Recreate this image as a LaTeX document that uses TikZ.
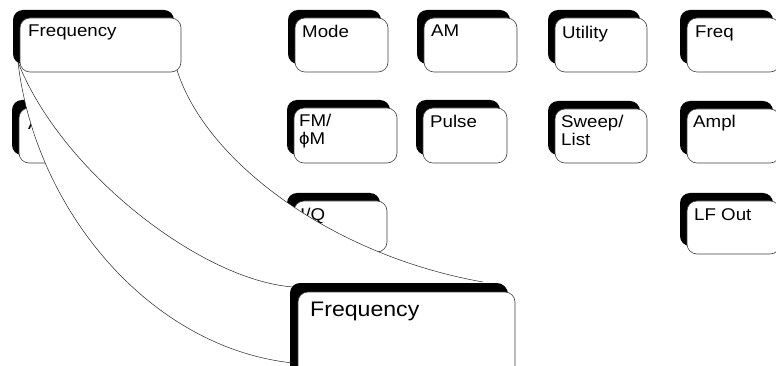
\documentclass[tikz,border=0pt]{standalone}
\usepackage{fontspec}
\newfontfamily\keyfont[FakeStretch=1.1]{Liberation Sans}
\usetikzlibrary{shadows}
\pgfdeclarelayer{under}
\pgfdeclarelayer{mid}
\pgfsetlayers{under,mid,main}

\tikzset{
    key/.style={draw=black!75, line width=0.6pt, fill=white, rounded corners=10pt,
        inner sep=0pt, outer sep=0pt, anchor=north west, minimum height=54pt,
        general shadow={fill=black, shadow xshift=-7pt, shadow yshift=8pt}},
    bigkey/.style={key, general shadow={fill=black, shadow xshift=-8pt, shadow yshift=9pt}},
    keytext/.style={anchor=north west, inner sep=0pt, align=left,
        font=\keyfont\fontsize{17}{18}\selectfont},
    wire/.style={line width=0.5pt, black!85},
}

\begin{document}
\begin{tikzpicture}[x=1pt, y=-1pt]
    \newcommand\kw{93pt}
    \newcommand\tx{7pt}
    \newcommand\ty{-7pt}

    \useasboundingbox (0,0) rectangle (776,366);
    \clip (0,0) rectangle (776,366);

    % keys partly hidden by the zoom band
    \begin{pgfonlayer}{under}
    \node[key, minimum width=\kw, minimum height=55pt] (amptd) at (19,108) {};
    \node[keytext] at ([xshift=9pt, yshift=-10pt]amptd.north west) {A};
    \node[key, minimum width=\kw, minimum height=51pt] (iq) at (294,201) {};
    \node[keytext] at ([xshift=6pt, yshift=\ty]iq.north west) {I/Q};
    \end{pgfonlayer}

    % first row
    \node[key, minimum width=161pt] (fsmall) at (20,18) {};
    \node[keytext] at ([xshift=8pt, yshift=\ty]fsmall.north west) {Frequency};
    \node[key, minimum width=\kw] (mode) at (295,18) {};
    \node[keytext] at ([xshift=\tx, yshift=\ty]mode.north west) {Mode};
    \node[key, minimum width=\kw] (am) at (424,18) {};
    \node[keytext] at ([xshift=\tx, yshift=\ty]am.north west) {AM};
    \node[key, minimum width=92pt] (util) at (555,18) {};
    \node[keytext] at ([xshift=\tx, yshift=-8pt]util.north west) {Utility};
    \node[key, minimum width=\kw] (freq) at (687,18) {};
    \node[keytext] at ([xshift=8pt, yshift=-8pt]freq.north west) {Freq};

    % second row
    \node[key, minimum width=103pt, minimum height=55pt] (fm) at (294,108) {};
    \node[keytext] at ([xshift=5pt, yshift=-6pt]fm.north west) {FM/\\ϕM};
    \node[key, minimum width=84pt, minimum height=55pt] (pulse) at (423,108) {};
    \node[keytext] at ([xshift=\tx, yshift=\ty]pulse.north west) {Pulse};
    \node[key, minimum width=92pt] (sweep) at (555,109) {};
    \node[keytext] at ([xshift=6pt, yshift=-6pt]sweep.north west) {Sweep/\\List};
    \node[key, minimum width=\kw] (ampl) at (687,109) {};
    \node[keytext] at ([xshift=6pt, yshift=-6pt]ampl.north west) {Ampl};

    % third row
    \node[key, minimum width=\kw, minimum height=53pt] (lfout) at (687,201) {};
    \node[keytext] at ([xshift=\tx, yshift=\ty]lfout.north west) {LF Out};

    % enlarged key
    \node[bigkey, minimum width=217pt, minimum height=95pt] (fbig) at (298,292) {};
    \node[keytext, font=\keyfont\fontsize{21}{21}\selectfont] at ([xshift=12pt, yshift=-10pt]fbig.north west) {Frequency};

    % zoom band
    \begin{pgfonlayer}{mid}
    \fill[white] ([xshift=-2pt, yshift=10pt]fsmall.south west) .. controls +(17,148) and +(-143,-15) .. ([xshift=-5pt, yshift=-71pt]fbig.north west)
        -- ([xshift=-32pt, yshift=10pt]fbig.north east) .. controls +(-153,-27) and +(28,90) .. ([xshift=-4pt, yshift=2pt]fsmall.south east) -- cycle;
    \end{pgfonlayer}
    \draw[wire] ([xshift=-2pt, yshift=10pt]fsmall.south west) .. controls +(17,148) and +(-143,-15) .. ([xshift=-5pt, yshift=-71pt]fbig.north west);
    \draw[wire] ([xshift=-2pt, yshift=10pt]fsmall.south west) .. controls +(42,108) and +(-93,-7) .. ([xshift=-5pt, yshift=5pt]fbig.north west);
    \draw[wire] ([xshift=-4pt, yshift=2pt]fsmall.south east) .. controls +(28,90) and +(-153,-27) .. ([xshift=-32pt, yshift=10pt]fbig.north east);
\end{tikzpicture}
\end{document}
